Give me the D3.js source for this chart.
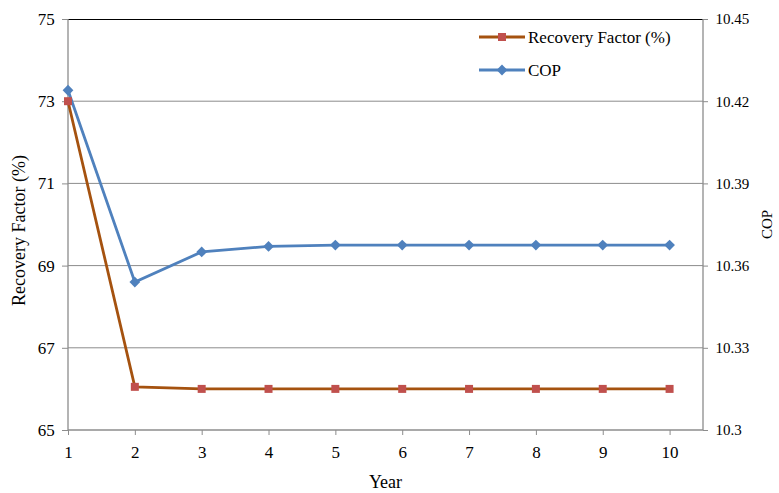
<!DOCTYPE html>
<html>
<head>
<meta charset="utf-8">
<script src="https://cdn.jsdelivr.net/npm/d3@7/dist/d3.min.js"></script>
<style>
  body { margin: 0; background: #fff; }
  svg text { font-family: "Liberation Serif", Tinos, "DejaVu Serif", "Times New Roman", serif !important; fill: #000; }
</style>
</head>
<body>
<div id="chart"></div>
<script>
const width = 779;
const height = 493;

// data
const years = [1, 2, 3, 4, 5, 6, 7, 8, 9, 10];
const recoveryFactor = [73.0, 66.05, 66.0, 66.0, 66.0, 66.0, 66.0, 66.0, 66.0, 66.0];
const cop = [10.424, 10.354, 10.365, 10.367, 10.3675, 10.3675, 10.3675, 10.3675, 10.3675, 10.3675];
const leftTicks = [65, 67, 69, 71, 73, 75];
const rightTicks = [10.3, 10.33, 10.36, 10.39, 10.42, 10.45];

const margin = { top: 19, right: 76, bottom: 63, left: 68 };
const x0 = margin.left, x1 = width - margin.right;
const y0 = height - margin.bottom, y1 = margin.top;

const svg = d3.select("#chart")
    .append("svg")
    .attr("width", width)
    .attr("height", height);

const x = d3.scaleLinear().domain([1, 10.5]).range([x0, x1]);
const yL = d3.scaleLinear().domain([65, 75]).range([y0, y1]);
const yR = d3.scaleLinear().domain([10.3, 10.45]).range([y0, y1]);

const grey = "#8c8c8c";

// grid lines
svg.append("g")
    .selectAll("line")
    .data(leftTicks.slice(1, -1))
    .enter()
    .append("line")
    .attr("x1", x0).attr("x2", x1)
    .attr("y1", d => yL(d)).attr("y2", d => yL(d))
    .attr("stroke", grey).attr("stroke-width", 1);

// top border
svg.append("line")
    .attr("x1", x0).attr("x2", x1)
    .attr("y1", y1 + 0.5).attr("y2", y1 + 0.5)
    .attr("stroke", "#000").attr("stroke-width", 1);

// axes
const xAxis = svg.append("g")
    .attr("transform", `translate(0,${y0})`)
    .call(d3.axisBottom(x).tickValues(years).tickSize(5).tickFormat(d3.format("d")));

const leftAxis = svg.append("g")
    .attr("transform", `translate(${x0},0)`)
    .call(d3.axisLeft(yL).tickValues(leftTicks).tickSize(6).tickFormat(d3.format("d")));

const rightAxis = svg.append("g")
    .attr("transform", `translate(${x1},0)`)
    .call(d3.axisRight(yR).tickValues(rightTicks).tickSize(5).tickFormat(d => +d.toFixed(2) + ""));

[xAxis, leftAxis, rightAxis].forEach(g => {
    g.attr("font-family", null).attr("font-size", null);
    g.select(".domain").attr("stroke", grey).attr("stroke-width", 1.3);
    g.selectAll(".tick line").attr("stroke", grey);
    g.selectAll(".tick text").attr("fill", "#000");
});
xAxis.select(".domain").attr("d", `M${x0},0H${x1}`);
leftAxis.select(".domain").attr("d", `M0,${y0}V${y1}`);
rightAxis.select(".domain").attr("d", `M0,${y0}V${y1}`);

xAxis.selectAll(".tick text").attr("font-size", 17).attr("dy", "1.2em");
leftAxis.selectAll(".tick text").attr("font-size", 17).attr("dx", "-0.25em");
rightAxis.selectAll(".tick text").attr("font-size", 15).attr("dx", "0.3em");

// axis titles
svg.append("text")
    .attr("transform", `translate(25,${(y0 + y1) / 2 + 6}) rotate(-90)`)
    .attr("text-anchor", "middle")
    .attr("font-size", 18)
    .text("Recovery Factor (%)");

svg.append("text")
    .attr("transform", `translate(772,${(y0 + y1) / 2}) rotate(-90)`)
    .attr("text-anchor", "middle")
    .attr("font-size", 15)
    .text("COP");

svg.append("text")
    .attr("x", (x0 + x1) / 2)
    .attr("y", 488)
    .attr("text-anchor", "middle")
    .attr("font-size", 18)
    .text("Year");

// series
const rfLine = d3.line().x((d, i) => x(years[i])).y(d => yL(d));
const copLine = d3.line().x((d, i) => x(years[i])).y(d => yR(d));

svg.append("path")
    .datum(recoveryFactor)
    .attr("d", rfLine)
    .attr("fill", "none")
    .attr("stroke", "#A5520F")
    .attr("stroke-width", 2.8);

svg.append("path")
    .datum(cop)
    .attr("d", copLine)
    .attr("fill", "none")
    .attr("stroke", "#4F81BD")
    .attr("stroke-width", 2.8);

const square = d3.symbol().type(d3.symbolSquare).size(64);
const diamond = d3.symbol().type(d3.symbolSquare).size(58);

svg.append("g")
    .selectAll("path")
    .data(recoveryFactor)
    .enter()
    .append("path")
    .attr("d", square)
    .attr("transform", (d, i) => `translate(${x(years[i])},${yL(d)})`)
    .attr("fill", "#C0504D");

svg.append("g")
    .selectAll("path")
    .data(cop)
    .enter()
    .append("path")
    .attr("d", diamond)
    .attr("transform", (d, i) => `translate(${x(years[i])},${yR(d)}) rotate(45)`)
    .attr("fill", "#4F81BD");

// legend
const legendItems = [
    { name: "Recovery Factor (%)", line: "#A5520F", mark: "#C0504D", sym: square, rot: 0, y: 37 },
    { name: "COP", line: "#4F81BD", mark: "#4F81BD", sym: diamond, rot: 45, y: 70 }
];
const lg = svg.append("g");
legendItems.forEach(it => {
    lg.append("line")
        .attr("x1", 479).attr("x2", 525)
        .attr("y1", it.y).attr("y2", it.y)
        .attr("stroke", it.line).attr("stroke-width", 2.8);
    lg.append("path")
        .attr("d", it.sym)
        .attr("transform", `translate(502,${it.y}) rotate(${it.rot})`)
        .attr("fill", it.mark);
    lg.append("text")
        .attr("x", 528).attr("y", it.y + 5.5)
        .attr("font-size", 17)
        .text(it.name);
});
</script>
</body>
</html>
